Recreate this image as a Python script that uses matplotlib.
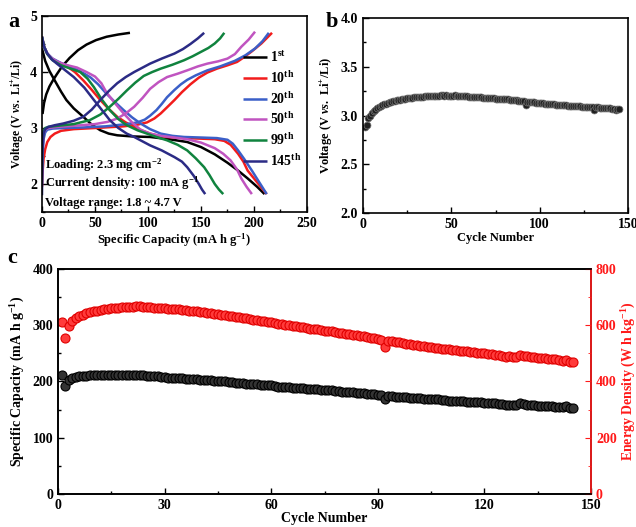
import matplotlib
matplotlib.use("Agg")
import matplotlib.pyplot as plt
from matplotlib.ticker import MultipleLocator, FormatStrFormatter

plt.rcParams['font.family'] = ['Liberation Serif', 'DejaVu Serif']
plt.rcParams['font.weight'] = 'bold'
plt.rcParams['mathtext.fontset'] = 'custom'
plt.rcParams['mathtext.rm'] = 'Liberation Serif:bold'
plt.rcParams['mathtext.bf'] = 'Liberation Serif:bold'
plt.rcParams['mathtext.it'] = 'Liberation Serif:italic:bold'
plt.rcParams['axes.linewidth'] = 1.2

# ---------------- Panel a data: charge / discharge curves ----------------
labels_a = ['1$^{\\mathrm{st}}$', '10$^{\\mathrm{th}}$', '20$^{\\mathrm{th}}$',
            '50$^{\\mathrm{th}}$', '99$^{\\mathrm{th}}$', '145$^{\\mathrm{th}}$']
colors_a = ['#000000', '#f21c1c', '#3b5fc8', '#c054c0', '#10833e', '#2b2b85']

c1_chg_cap = [0.5, 2, 4, 7, 10, 14, 19, 26, 34, 42, 51, 61, 72, 83]
c1_chg_v = [3.25, 3.45, 3.6, 3.74, 3.84, 3.96, 4.1, 4.25, 4.39, 4.49, 4.57, 4.63, 4.67, 4.70]
c1_dis_cap = [0, 3, 7, 12, 18, 23, 30, 39, 47, 55, 63, 71, 85, 102, 120, 137, 150, 163, 175, 185, 194, 203, 210]
c1_dis_v = [4.42, 4.2, 4.02, 3.85, 3.65, 3.5, 3.35, 3.2, 3.06, 2.96, 2.9, 2.87, 2.85, 2.84, 2.8, 2.75,
            2.66, 2.53, 2.38, 2.24, 2.1, 1.95, 1.82]

c10_chg_cap = [0, 0.5, 1.5, 3, 5, 8, 12, 18, 30, 50, 77, 90, 99, 106, 112, 118, 125, 132, 140, 148,
               156, 165, 175, 184, 191, 198, 207, 217]
c10_chg_v = [1.95, 2.2, 2.45, 2.62, 2.75, 2.84, 2.9, 2.95, 2.98, 3.0, 3.03, 3.06, 3.1, 3.17, 3.26, 3.37,
             3.5, 3.64, 3.78, 3.9, 3.99, 4.06, 4.12, 4.18, 4.27, 4.37, 4.51, 4.70]
c10_dis_cap = [0, 2, 5, 9, 15, 23, 31, 39, 47, 55, 63, 71, 79, 87, 95, 102, 110, 118, 135, 150, 163,
               172, 178, 185, 190, 194, 200, 206, 212]
c10_dis_v = [4.63, 4.45, 4.33, 4.24, 4.17, 4.11, 4.0, 3.85, 3.68, 3.5, 3.34, 3.2, 3.1, 3.02, 2.95, 2.9,
             2.86, 2.84, 2.82, 2.81, 2.8, 2.77, 2.7, 2.54, 2.4, 2.24, 2.1, 1.96, 1.82]

c20_chg_cap = [0, 0.5, 1.5, 3, 5, 10, 20, 39, 60, 80, 90, 97, 102, 108, 113, 118, 125, 131, 137, 145,
               156, 168, 182, 192, 201, 208, 214]
c20_chg_v = [2.0, 2.5, 2.8, 2.92, 2.97, 2.99, 3.0, 3.01, 3.03, 3.07, 3.1, 3.15, 3.22, 3.32, 3.43, 3.55,
             3.68, 3.78, 3.86, 3.94, 4.03, 4.1, 4.2, 4.3, 4.42, 4.55, 4.70]
c20_dis_cap = [0, 2, 5, 10, 18, 26, 33, 40, 46, 53, 61, 69, 77, 85, 93, 102, 112, 123, 134, 150, 165,
               175, 180, 185, 191, 198, 205, 212]
c20_dis_v = [4.63, 4.45, 4.33, 4.24, 4.16, 4.1, 4.04, 3.97, 3.9, 3.78, 3.61, 3.46, 3.32, 3.19, 3.08,
             2.98, 2.9, 2.86, 2.84, 2.83, 2.82, 2.79, 2.72, 2.6, 2.44, 2.24, 2.03, 1.82]

c50_chg_cap = [0, 0.5, 1.5, 3, 6, 15, 30, 50, 62, 71, 79, 87, 95, 102, 110, 118, 128, 137, 147, 156,
               166, 175, 182, 188, 195, 201]
c50_chg_v = [2.3, 2.7, 2.9, 2.97, 3.0, 3.02, 3.04, 3.07, 3.11, 3.17, 3.26, 3.38, 3.54, 3.7, 3.82, 3.91,
             3.97, 4.03, 4.1, 4.15, 4.19, 4.24, 4.32, 4.45, 4.58, 4.72]
c50_dis_cap = [0, 2, 5, 9, 14, 22, 33, 42, 50, 56, 61, 69, 77, 85, 93, 102, 112, 125, 137, 150, 163,
               171, 178, 184, 188, 193, 198]
c50_dis_v = [4.63, 4.45, 4.33, 4.25, 4.19, 4.13, 4.08, 4.0, 3.92, 3.8, 3.63, 3.44, 3.26, 3.1, 2.97, 2.9,
             2.86, 2.83, 2.8, 2.74, 2.64, 2.54, 2.42, 2.26, 2.1, 1.95, 1.82]

c99_chg_cap = [0, 0.5, 1.5, 3, 6, 15, 30, 45, 55, 64, 72, 80, 88, 96, 104, 112, 123, 134, 142, 150,
               157, 163, 168, 172]
c99_chg_v = [2.3, 2.75, 2.95, 3.0, 3.02, 3.04, 3.07, 3.14, 3.24, 3.38, 3.52, 3.67, 3.81, 3.93, 4.0,
             4.06, 4.13, 4.21, 4.28, 4.36, 4.43, 4.51, 4.6, 4.7]
c99_dis_cap = [0, 2, 5, 10, 18, 27, 36, 43, 49, 56, 64, 72, 80, 90, 99, 108, 118, 128, 137, 145, 153,
               158, 163, 167, 171]
c99_dis_v = [4.63, 4.45, 4.32, 4.21, 4.12, 4.06, 4.0, 3.88, 3.73, 3.52, 3.32, 3.16, 3.05, 2.96, 2.9,
             2.84, 2.78, 2.7, 2.6, 2.46, 2.3, 2.16, 2.0, 1.9, 1.82]

c145_chg_cap = [0, 0.5, 1.5, 3, 6, 12, 20, 30, 39, 47, 55, 63, 71, 79, 87, 95, 102, 113, 125, 133,
                140, 147, 153]
c145_chg_v = [1.8, 2.6, 2.9, 2.98, 3.02, 3.05, 3.08, 3.13, 3.2, 3.33, 3.5, 3.66, 3.8, 3.91, 4.0, 4.08,
              4.15, 4.24, 4.33, 4.41, 4.5, 4.6, 4.7]
c145_dis_cap = [0, 2, 5, 9, 14, 22, 30, 40, 49, 57, 64, 72, 80, 87, 95, 102, 113, 125, 132, 137, 143,
                148, 151, 154]
c145_dis_v = [4.63, 4.45, 4.33, 4.23, 4.15, 4.03, 3.91, 3.72, 3.5, 3.31, 3.14, 3.0, 2.9, 2.84, 2.76,
              2.69, 2.6, 2.48, 2.4, 2.3, 2.15, 2.0, 1.9, 1.82]

curves_a = [
    (c1_chg_cap, c1_chg_v, c1_dis_cap, c1_dis_v),
    (c10_chg_cap, c10_chg_v, c10_dis_cap, c10_dis_v),
    (c20_chg_cap, c20_chg_v, c20_dis_cap, c20_dis_v),
    (c50_chg_cap, c50_chg_v, c50_dis_cap, c50_dis_v),
    (c99_chg_cap, c99_chg_v, c99_dis_cap, c99_dis_v),
    (c145_chg_cap, c145_chg_v, c145_dis_cap, c145_dis_v),
]

# ---------------- Panel b data: average voltage per cycle ----------------
volt_b = [2.88, 2.90, 2.97, 3.00, 3.03, 3.05, 3.06, 3.08, 3.09, 3.10,
          3.11, 3.12, 3.12, 3.13, 3.14, 3.14, 3.15, 3.15, 3.16, 3.16,
          3.16, 3.17, 3.17, 3.17, 3.18, 3.18, 3.18, 3.18, 3.19, 3.19,
          3.19, 3.19, 3.19, 3.19, 3.20, 3.20, 3.20, 3.20, 3.20, 3.20,
          3.20, 3.20, 3.20, 3.21, 3.21, 3.20, 3.21, 3.20, 3.20, 3.20,
          3.20, 3.21, 3.20, 3.20, 3.20, 3.20, 3.20, 3.20, 3.20, 3.19,
          3.19, 3.19, 3.19, 3.19, 3.19, 3.19, 3.19, 3.18, 3.18, 3.18,
          3.18, 3.18, 3.18, 3.18, 3.17, 3.17, 3.17, 3.17, 3.17, 3.17,
          3.17, 3.17, 3.16, 3.16, 3.16, 3.16, 3.16, 3.15, 3.15, 3.15,
          3.15, 3.11, 3.14, 3.14, 3.14, 3.14, 3.14, 3.13, 3.13, 3.13,
          3.13, 3.13, 3.12, 3.12, 3.12, 3.12, 3.12, 3.12, 3.11, 3.11,
          3.11, 3.11, 3.11, 3.11, 3.11, 3.10, 3.10, 3.10, 3.10, 3.10,
          3.10, 3.10, 3.10, 3.09, 3.09, 3.09, 3.09, 3.09, 3.09, 3.09,
          3.06, 3.09, 3.09, 3.08, 3.08, 3.08, 3.08, 3.08, 3.08, 3.08,
          3.07, 3.07, 3.06, 3.07, 3.07]
cycles_b = list(range(1, len(volt_b) + 1))

# ---------------- Panel c data: capacity and energy density ----------------
cap_c = [212, 192, 202, 206, 208, 209, 210, 210, 211, 211,
         211, 212, 212, 212, 212, 212, 212, 212, 212, 212,
         212, 212, 211, 211, 210, 210, 209, 209, 208, 208,
         207, 207, 207, 206, 206, 205, 205, 204, 204, 203,
         203, 202, 202, 201, 201, 200, 200, 199, 199, 198,
         198, 197, 196, 196, 195, 195, 194, 194, 193, 193,
         192, 191, 191, 190, 190, 189, 189, 188, 188, 187,
         187, 186, 186, 185, 185, 184, 184, 183, 183, 182,
         182, 181, 181, 180, 179, 179, 178, 178, 177, 176,
         176, 168, 174, 174, 173, 173, 172, 172, 171, 171,
         170, 170, 169, 169, 168, 168, 168, 167, 167, 166,
         166, 166, 165, 165, 164, 164, 163, 163, 163, 162,
         162, 161, 161, 160, 160, 159, 159, 158, 158, 162,
         160, 159, 158, 158, 157, 157, 157, 156, 156, 155,
         155, 154, 156, 153, 153]
energy_c = [612, 556, 598, 615, 625, 632, 638, 642, 646, 649,
            652, 655, 657, 659, 661, 662, 663, 664, 665, 666,
            666, 667, 667, 666, 665, 664, 663, 662, 661, 660,
            659, 658, 657, 656, 655, 654, 652, 651, 650, 648,
            646, 645, 643, 641, 640, 638, 636, 634, 632, 630,
            628, 626, 624, 622, 620, 618, 616, 614, 612, 610,
            608, 606, 604, 602, 600, 598, 596, 594, 592, 590,
            588, 586, 585, 583, 581, 579, 578, 576, 574, 572,
            570, 568, 566, 564, 562, 560, 558, 556, 554, 552,
            549, 523, 545, 543, 541, 539, 537, 535, 533, 531,
            529, 527, 525, 523, 522, 520, 519, 517, 516, 514,
            513, 511, 510, 508, 507, 506, 504, 503, 501, 500,
            498, 497, 495, 494, 492, 486, 489, 488, 487, 495,
            492, 490, 488, 486, 484, 483, 482, 481, 480, 479,
            476, 472, 478, 468, 470]
cycles_c = list(range(1, len(cap_c) + 1))

FS = 10
LFS = 9

fig = plt.figure(figsize=(6.36, 5.27), dpi=100)


def style(ax):
    ax.tick_params(direction='in', which='both', labelsize=FS, width=1.0)
    ax.tick_params(which='major', length=4)
    ax.tick_params(which='minor', length=2.5)
    for lab in ax.get_xticklabels() + ax.get_yticklabels():
        lab.set_fontweight('bold')


# ---- Panel a ----
axa = fig.add_axes([0.066, 0.5977, 0.4167, 0.3719])
for (cc, cv, dc, dv), col, lab in zip(curves_a, colors_a, labels_a):
    axa.plot(cc, cv, color=col, lw=1.8, label=lab, solid_capstyle='butt')
    axa.plot(dc, dv, color=col, lw=1.8, solid_capstyle='butt')
axa.set_xlim(0, 250)
axa.set_ylim(1.5, 5)
axa.xaxis.set_major_locator(MultipleLocator(50))
axa.xaxis.set_minor_locator(MultipleLocator(25))
axa.yaxis.set_major_locator(MultipleLocator(1))
axa.yaxis.set_minor_locator(MultipleLocator(0.5))
style(axa)
axa.set_xlabel('Specific Capacity (mA h g$^{-1}$)', fontsize=LFS, fontweight='bold', labelpad=1)
axa.set_ylabel('Voltage (V $\\mathit{vs.}$ Li$^{+}$/Li)', fontsize=8.5, fontweight='bold', labelpad=3)
leg = axa.legend(loc='upper right', bbox_to_anchor=(1.01, 0.87), frameon=False, fontsize=FS,
                 handlelength=1.7, handletextpad=0.2, labelspacing=0.35, borderaxespad=0.2)
axa.text(0.012, 0.24, 'Loading: 2.3 mg cm$^{-2}$', transform=axa.transAxes, fontsize=LFS,
         fontweight='bold', va='center')
axa.text(0.012, 0.148, 'Current density: 100 mA g$^{-1}$', transform=axa.transAxes, fontsize=LFS,
         fontweight='bold', va='center', zorder=5)
axa.text(0.012, 0.048, 'Voltage range: 1.8 ~ 4.7 V', transform=axa.transAxes, fontsize=LFS,
         fontweight='bold', va='center')
fig.text(14 / 636, 1 - 22 / 527, 'a', fontsize=16, va='center', ha='center')

# ---- Panel b ----
axb = fig.add_axes([0.5708, 0.5958, 0.4166, 0.3700])
axb.plot(cycles_b, volt_b, 'o', ms=5, mfc='#202020', mec='#777777', mew=0.5)
axb.set_xlim(0, 150)
axb.set_ylim(2.0, 4.0)
axb.xaxis.set_major_locator(MultipleLocator(50))
axb.xaxis.set_minor_locator(MultipleLocator(25))
axb.yaxis.set_major_locator(MultipleLocator(0.5))
axb.yaxis.set_minor_locator(MultipleLocator(0.25))
axb.yaxis.set_major_formatter(FormatStrFormatter('%.1f'))
style(axb)
axb.set_xlabel('Cycle Number', fontsize=LFS, fontweight='bold', labelpad=1)
axb.set_ylabel('Voltage (V $\\mathit{vs.}$ Li$^{+}$/Li)', fontsize=LFS, fontweight='bold', labelpad=4)
fig.text(332 / 636, 1 - 22 / 527, 'b', fontsize=16, va='center', ha='center')

# ---- Panel c ----
axc = fig.add_axes([0.0912, 0.0626, 0.8381, 0.4270])
axc.plot(cycles_c, cap_c, 'o', ms=6.5, mfc='#333333', mec='#000000', mew=0.8, zorder=3)
axc.set_xlim(0, 150)
axc.set_ylim(0, 400)
axc.xaxis.set_major_locator(MultipleLocator(30))
axc.xaxis.set_minor_locator(MultipleLocator(15))
axc.yaxis.set_major_locator(MultipleLocator(100))
axc.yaxis.set_minor_locator(MultipleLocator(50))
style(axc)
axc.set_xlabel('Cycle Number', fontsize=10, fontweight='bold', labelpad=0)
axc.set_ylabel('Specific Capacity (mA h g$^{-1}$)', fontsize=10, fontweight='bold', labelpad=4)

axr = axc.twinx()
axr.plot(cycles_c, energy_c, 'o', ms=6.5, mfc='#ff3b3b', mec='#e00000', mew=0.8)
axr.set_ylim(0, 800)
axr.yaxis.set_major_locator(MultipleLocator(200))
axr.yaxis.set_minor_locator(MultipleLocator(100))
axr.tick_params(direction='in', which='both', labelsize=FS, colors='#ff1a1a')
axr.tick_params(which='major', length=4)
axr.tick_params(which='minor', length=2.5)
for lab in axr.get_yticklabels():
    lab.set_fontweight('bold')
axr.spines['right'].set_color('#ff1a1a')
axr.spines['right'].set_linewidth(1.2)
axr.set_ylabel('Energy Density (W h kg$^{-1}$)', fontsize=10, fontweight='bold', color='#ff1a1a',
               labelpad=2)
fig.text(12 / 636, 1 - 258 / 527, 'c', fontsize=16, va='center', ha='center')

fig.savefig('out.png', dpi=100)
